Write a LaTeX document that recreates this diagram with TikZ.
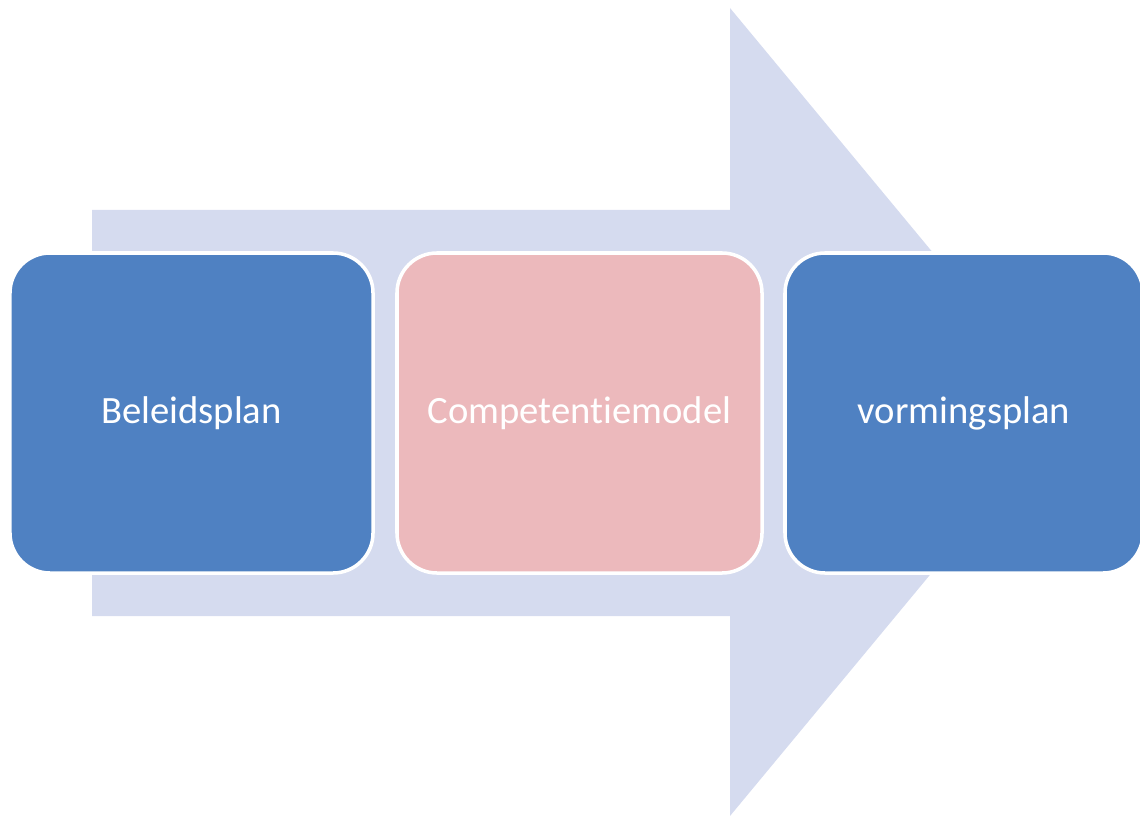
\documentclass[tikz,border=0pt]{standalone}
\usepackage{fontspec}
\setmainfont{Carlito}[Ligatures=NoCommon]
\definecolor{arrowfill}{HTML}{D5DBEF}
\definecolor{boxblue}{HTML}{4F81C2}
\definecolor{boxpink}{HTML}{ECB9BC}
\tikzset{
  stepbox/.style={rectangle, rounded corners=1.2cm, draw=white, line width=3pt,
    minimum height=9.6cm, text=white, font=\fontsize{33}{40}\selectfont, inner sep=0pt},
}
\begin{document}
\begin{tikzpicture}[x=0.03cm,y=-0.03cm]
\useasboundingbox (0,0) rectangle (1140,816);
\clip (0,0) rectangle (1140,816);
\fill[arrowfill] (92,210) -- (730,210) -- (730,8) -- (1065,412) -- (730,816) -- (730,616) -- (92,616) -- cycle;
\node[stepbox, fill=boxblue, minimum width=10.89cm] (b1) at (191.5,413) {Beleidsplan};
\node[stepbox, fill=boxpink, minimum width=10.95cm] (b2) at (579.5,413) {Competentiemodel};
\node[stepbox, fill=boxblue, minimum width=10.74cm] (b3) at (964,413) {vormingsplan};
\end{tikzpicture}
\end{document}
